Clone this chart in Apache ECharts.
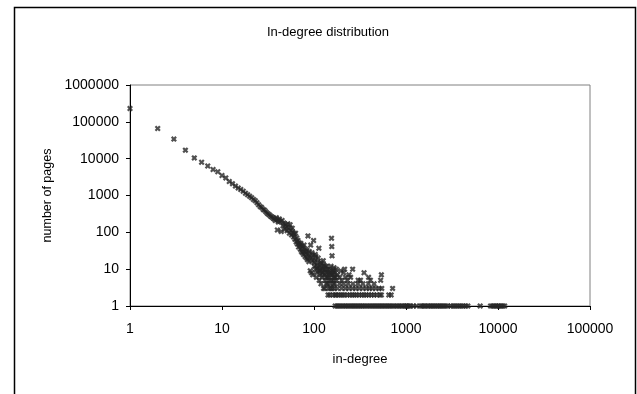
<!DOCTYPE html>
<html>
<head>
<meta charset="utf-8">
<script src="https://cdn.jsdelivr.net/npm/echarts@6/dist/echarts.min.js"></script>
<style>html,body{margin:0;padding:0;background:#fff;}#chart{width:637px;height:394px;}</style>
</head>
<body>
<div id="chart"></div>
<script>
// ---- data ----
const title = "In-degree distribution";
const xName = "in-degree";
const yName = "number of pages";

// low in-degree part (one point per degree)
const headDegree = [1,2,3,4,5,6,7,8,9,10,11,12,13,14,15,16,17,18,19,20,21,22,23,24,25,26,27,28,29,30,31,32,33,34,35,36,37,38,39,40];
const headPages  = [230000,66000,34000,17000,10500,8000,6300,5100,4400,3500,3000,2400,2100,1800,1600,1450,1300,1150,1050,950,870,780,720,640,560,500,470,420,400,360,330,310,290,270,260,240,230,210,250,220];

// scattered middle part
const midDegree = [40,41,42,43,44,45,46,47,48,49,50,51,52,53,54,55,56,57,58,59,60,61,62,63,64,65,66,67,68,69,70,71,72,73,74,75,76,77,78,79,80,81,82,83,84,85,86,87,88,89,90,91,92,93,94,95,96,97,98,99,100];
const midPages  = [116,190,230,200,105,210,150,180,120,160,140,110,170,130,95,160,115,85,130,100,75,90,65,95,55,70,48,60,40,52,45,35,50,30,42,28,38,25,45,30,22,35,27,20,32,18,80,25,16,30,22,9,45,20,8,28,17,7,24,60,15];

// 100 - 170
const lateDegree = [101,102,103,104,105,106,107,108,109,110,111,112,113,114,115,116,117,118,119,120,121,122,123,124,125,126,127,128,129,130,131,132,133,134,135,136,137,138,139,140,141,142,143,144,145,146,147,148,149,150,151,152,153,154,155,156,157,158,159,160,161,162,163,164,165,166,167,168,169,170];
const latePages  = [12,18,25,10,22,6,13,8,11,16,20,9,37,5,12,9,7,15,4,10,14,6,8,11,8,17,3,13,10,7,3,5,12,9,6,4,8,12,4,6,10,2,8,3,5,6,10,2,8,4,3,7,12,5,69,41,23,3,7,9,2,5,4,8,11,3,6,4,2,6];

// tail above one page
const tailDegree = [175,185,195,205,215,230,245,260,275,290,310,330,350,370,395,420,450,480,520,540,650,690,
                    180,200,220,240,262,285,310,340,370,400,430,470,510,545,715,
                    190,210,235,265,300,340,390,450,
                    175,200,230,302,320,410,530,
                    165,190,220,250,392,
                    180,240,540,
                    170,210,350,
                    160,195,
                    175,215,263];
const tailPages  = [2,2,2,2,2,2,2,2,2,2,2,2,2,2,2,2,2,2,2,2,2,2,
                    3,3,3,3,3,3,3,3,3,3,3,3,3,3,3,
                    4,4,4,4,4,4,4,4,
                    5,5,5,5,5,5,5,
                    6,6,6,6,6,
                    7,7,7,
                    8,8,8,
                    9,9,
                    10,10,10];

// single-page degrees
const oneDegree = [170,178,186,195,205,215,225,236,248,260,272,285,300,315,330,345,362,380,400,420,440,462,485,510,535,560,590,620,650,680,715,750,790,830,870,910,960,1000,
                   1030,1070,1120,1200,1300,1440,1500,1560,1630,1720,1800,1880,1960,2050,2150,2250,2350,2450,2570,2700,2830,3080,3250,3420,3600,3800,4000,4200,4450,4700,
                   6400,8300,8700,9100,9500,9900,10300,10800,11300,11800];

// axis ticks
const xTicks = [1,10,100,1000,10000,100000];
const yTicks = [1,10,100,1000,10000,100000,1000000];

// ---- build ----
function zip(xs, ys){ return xs.map((x,i)=>[x, ys[i]]); }
const points = [].concat(
  zip(headDegree, headPages),
  zip(midDegree, midPages),
  zip(lateDegree, latePages),
  zip(tailDegree, tailPages),
  oneDegree.map(d => [d, 1])
);

const cross = 'path://M2.6,0 L5,2.4 L7.4,0 L10,2.6 L7.6,5 L10,7.4 L7.4,10 L5,7.6 L2.6,10 L0,7.4 L2.4,5 L0,2.6 Z';
const FONT = '"Liberation Sans", Arial, sans-serif';

const chart = echarts.init(document.getElementById('chart'), null, {renderer:'canvas'});
chart.setOption({
  animation: false,
  backgroundColor: '#ffffff',
  title: {
    text: title, left: 323, top: 21, textAlign: 'center',
    textStyle: {fontFamily: FONT, fontSize: 13, fontWeight: 'normal', color: '#000'}
  },
  grid: {left: 130, right: 47, top: 85, bottom: 88, show: true, borderColor: '#808080', borderWidth: 1, backgroundColor: '#fff'},
  xAxis: {
    type: 'log', logBase: 10, min: xTicks[0], max: xTicks[xTicks.length-1],
    name: xName, nameLocation: 'middle', nameGap: 47,
    nameTextStyle: {fontFamily: FONT, fontSize: 13, color: '#000'},
    axisLine: {show: true, lineStyle: {color: '#000', width: 1}},
    axisTick: {show: true, inside: false, length: 4, lineStyle: {color: '#000'}},
    minorTick: {show: false},
    splitLine: {show: false},
    axisLabel: {fontFamily: FONT, fontSize: 14, color: '#000', margin: 16,
      formatter: v => String(Math.round(v))}
  },
  yAxis: {
    type: 'log', logBase: 10, min: yTicks[0], max: yTicks[yTicks.length-1],
    name: yName, nameLocation: 'middle', nameGap: 76, nameRotate: 90,
    nameTextStyle: {fontFamily: FONT, fontSize: 12.5, color: '#000'},
    axisLine: {show: true, lineStyle: {color: '#000', width: 1}},
    axisTick: {show: true, inside: false, length: 4, lineStyle: {color: '#000'}},
    splitLine: {show: false},
    axisLabel: {fontFamily: FONT, fontSize: 14, color: '#000', margin: 11,
      formatter: v => String(Math.round(v))}
  },
  graphic: [{
    type: 'rect', left: 12, top: 5, silent: true, z: -1,
    shape: {x: 0, y: 0, width: 621, height: 400},
    style: {fill: 'none', stroke: '#000', lineWidth: 1.5}
  }],
  series: [{
    type: 'scatter',
    data: points,
    symbol: cross,
    symbolSize: 6,
    itemStyle: {color: '#262626'},
    clip: false
  }]
});
</script>
</body>
</html>
